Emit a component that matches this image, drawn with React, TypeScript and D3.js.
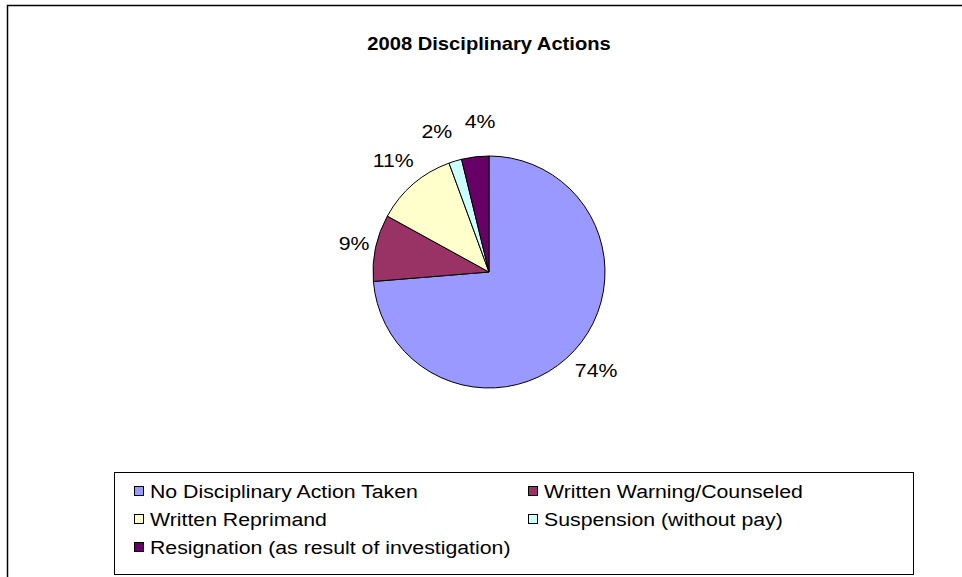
import React from "react";
import * as d3 from "d3";

const title = "2008 Disciplinary Actions";
const categories = [
  "No Disciplinary Action Taken",
  "Written Warning/Counseled",
  "Written Reprimand",
  "Suspension (without pay)",
  "Resignation (as result of investigation)",
];
const values = [73.7, 9.3, 11.4, 1.8, 3.8];
const colors = ["#9999FF", "#993366", "#FFFFCC", "#CCFFFF", "#660066"];

const W = 962;
const H = 577;
const FONT = "Liberation Sans, Arial, sans-serif";
const SX = 1.12;

function STxt(props: {
  x: number;
  y: number;
  size: number;
  anchor?: string;
  bold?: boolean;
  children: React.ReactNode;
}) {
  return (
    <text
      transform={`translate(${props.x},${props.y}) scale(${SX},1)`}
      textAnchor={props.anchor || "start"}
      dominantBaseline="central"
      fontSize={props.size}
      fontWeight={props.bold ? "bold" : "normal"}
      fill="#000"
    >
      {props.children}
    </text>
  );
}

export default function App() {
  const cx = 489;
  const cy = 272;
  const r = 116;
  const total = d3.sum(values);
  const pie = d3
    .pie<number>()
    .sort(null)
    .startAngle(0)
    .endAngle(2 * Math.PI)
    .value((d) => d);
  const arcs = pie(values);
  const arc = d3.arc<d3.PieArcDatum<number>>().innerRadius(0).outerRadius(r);

  const labelSize = 19;
  const labels = arcs.map((a, i) => {
    const txt = `${Math.round((values[i] / total) * 100)}%`;
    const digits = txt.length - 1;
    const w = labelSize * SX * (0.556 * digits + 0.889);
    return { txt, w, h: labelSize, ang: (a.startAngle + a.endAngle) / 2 };
  });
  const pos = (ang: number) => {
    const R = r + 18.6 + 16.3 * Math.abs(Math.cos(ang));
    return [R * Math.sin(ang), -R * Math.cos(ang)];
  };
  for (let iter = 0; iter < 200; iter++) {
    let moved = false;
    for (let i = 0; i < labels.length - 1; i++) {
      const A = labels[i];
      const B = labels[i + 1];
      const [ax, ay] = pos(A.ang);
      const [bx, by] = pos(B.ang);
      const gap = 12;
      const overlapX = (A.w + B.w) / 2 + gap - Math.abs(ax - bx);
      const overlapY = (A.h + B.h) / 2 - Math.abs(ay - by);
      if (overlapX > 0 && overlapY > 0) {
        const step = 0.005;
        A.ang -= step;
        B.ang += step;
        moved = true;
      }
    }
    if (!moved) break;
  }

  const legX = 114;
  const legY = 472;
  const legW = 799;
  const legH = 102;
  const colX = [134, 528];
  const rowY = [491, 519, 547];

  return (
    <svg
      width={W}
      height={H}
      style={{ position: "absolute", left: 0, top: 0, background: "#fff" }}
      fontFamily={FONT}
    >
      <rect x={0} y={0} width={W} height={H} fill="#fff" />
      <rect
        x={7.5}
        y={5.5}
        width={1200}
        height={1200}
        fill="none"
        stroke="#000"
        strokeWidth={1.5}
      />
      <STxt x={489} y={44} size={18} anchor="middle" bold>
        {title}
      </STxt>
      <g transform={`translate(${cx},${cy})`}>
        {arcs.map((a, i) => (
          <path
            key={i}
            d={arc(a) || ""}
            fill={colors[i]}
            stroke="#000"
            strokeWidth={1}
          />
        ))}
        {labels.map((l, i) => {
          const [lx, ly] = pos(l.ang);
          return (
            <STxt key={"l" + i} x={lx} y={ly} size={labelSize} anchor="middle">
              {l.txt}
            </STxt>
          );
        })}
      </g>
      <rect
        x={legX + 0.5}
        y={legY + 0.5}
        width={legW}
        height={legH}
        fill="#fff"
        stroke="#000"
        strokeWidth={1}
      />
      {categories.map((c, i) => {
        const col = i % 2;
        const row = Math.floor(i / 2);
        const x = colX[col];
        const y = rowY[row];
        return (
          <g key={"lg" + i}>
            <rect
              x={x + 0.5}
              y={y - 4.5}
              width={9}
              height={9}
              fill={colors[i]}
              stroke="#000"
              strokeWidth={1}
            />
            <STxt x={x + 16} y={y} size={19}>
              {c}
            </STxt>
          </g>
        );
      })}
    </svg>
  );
}
